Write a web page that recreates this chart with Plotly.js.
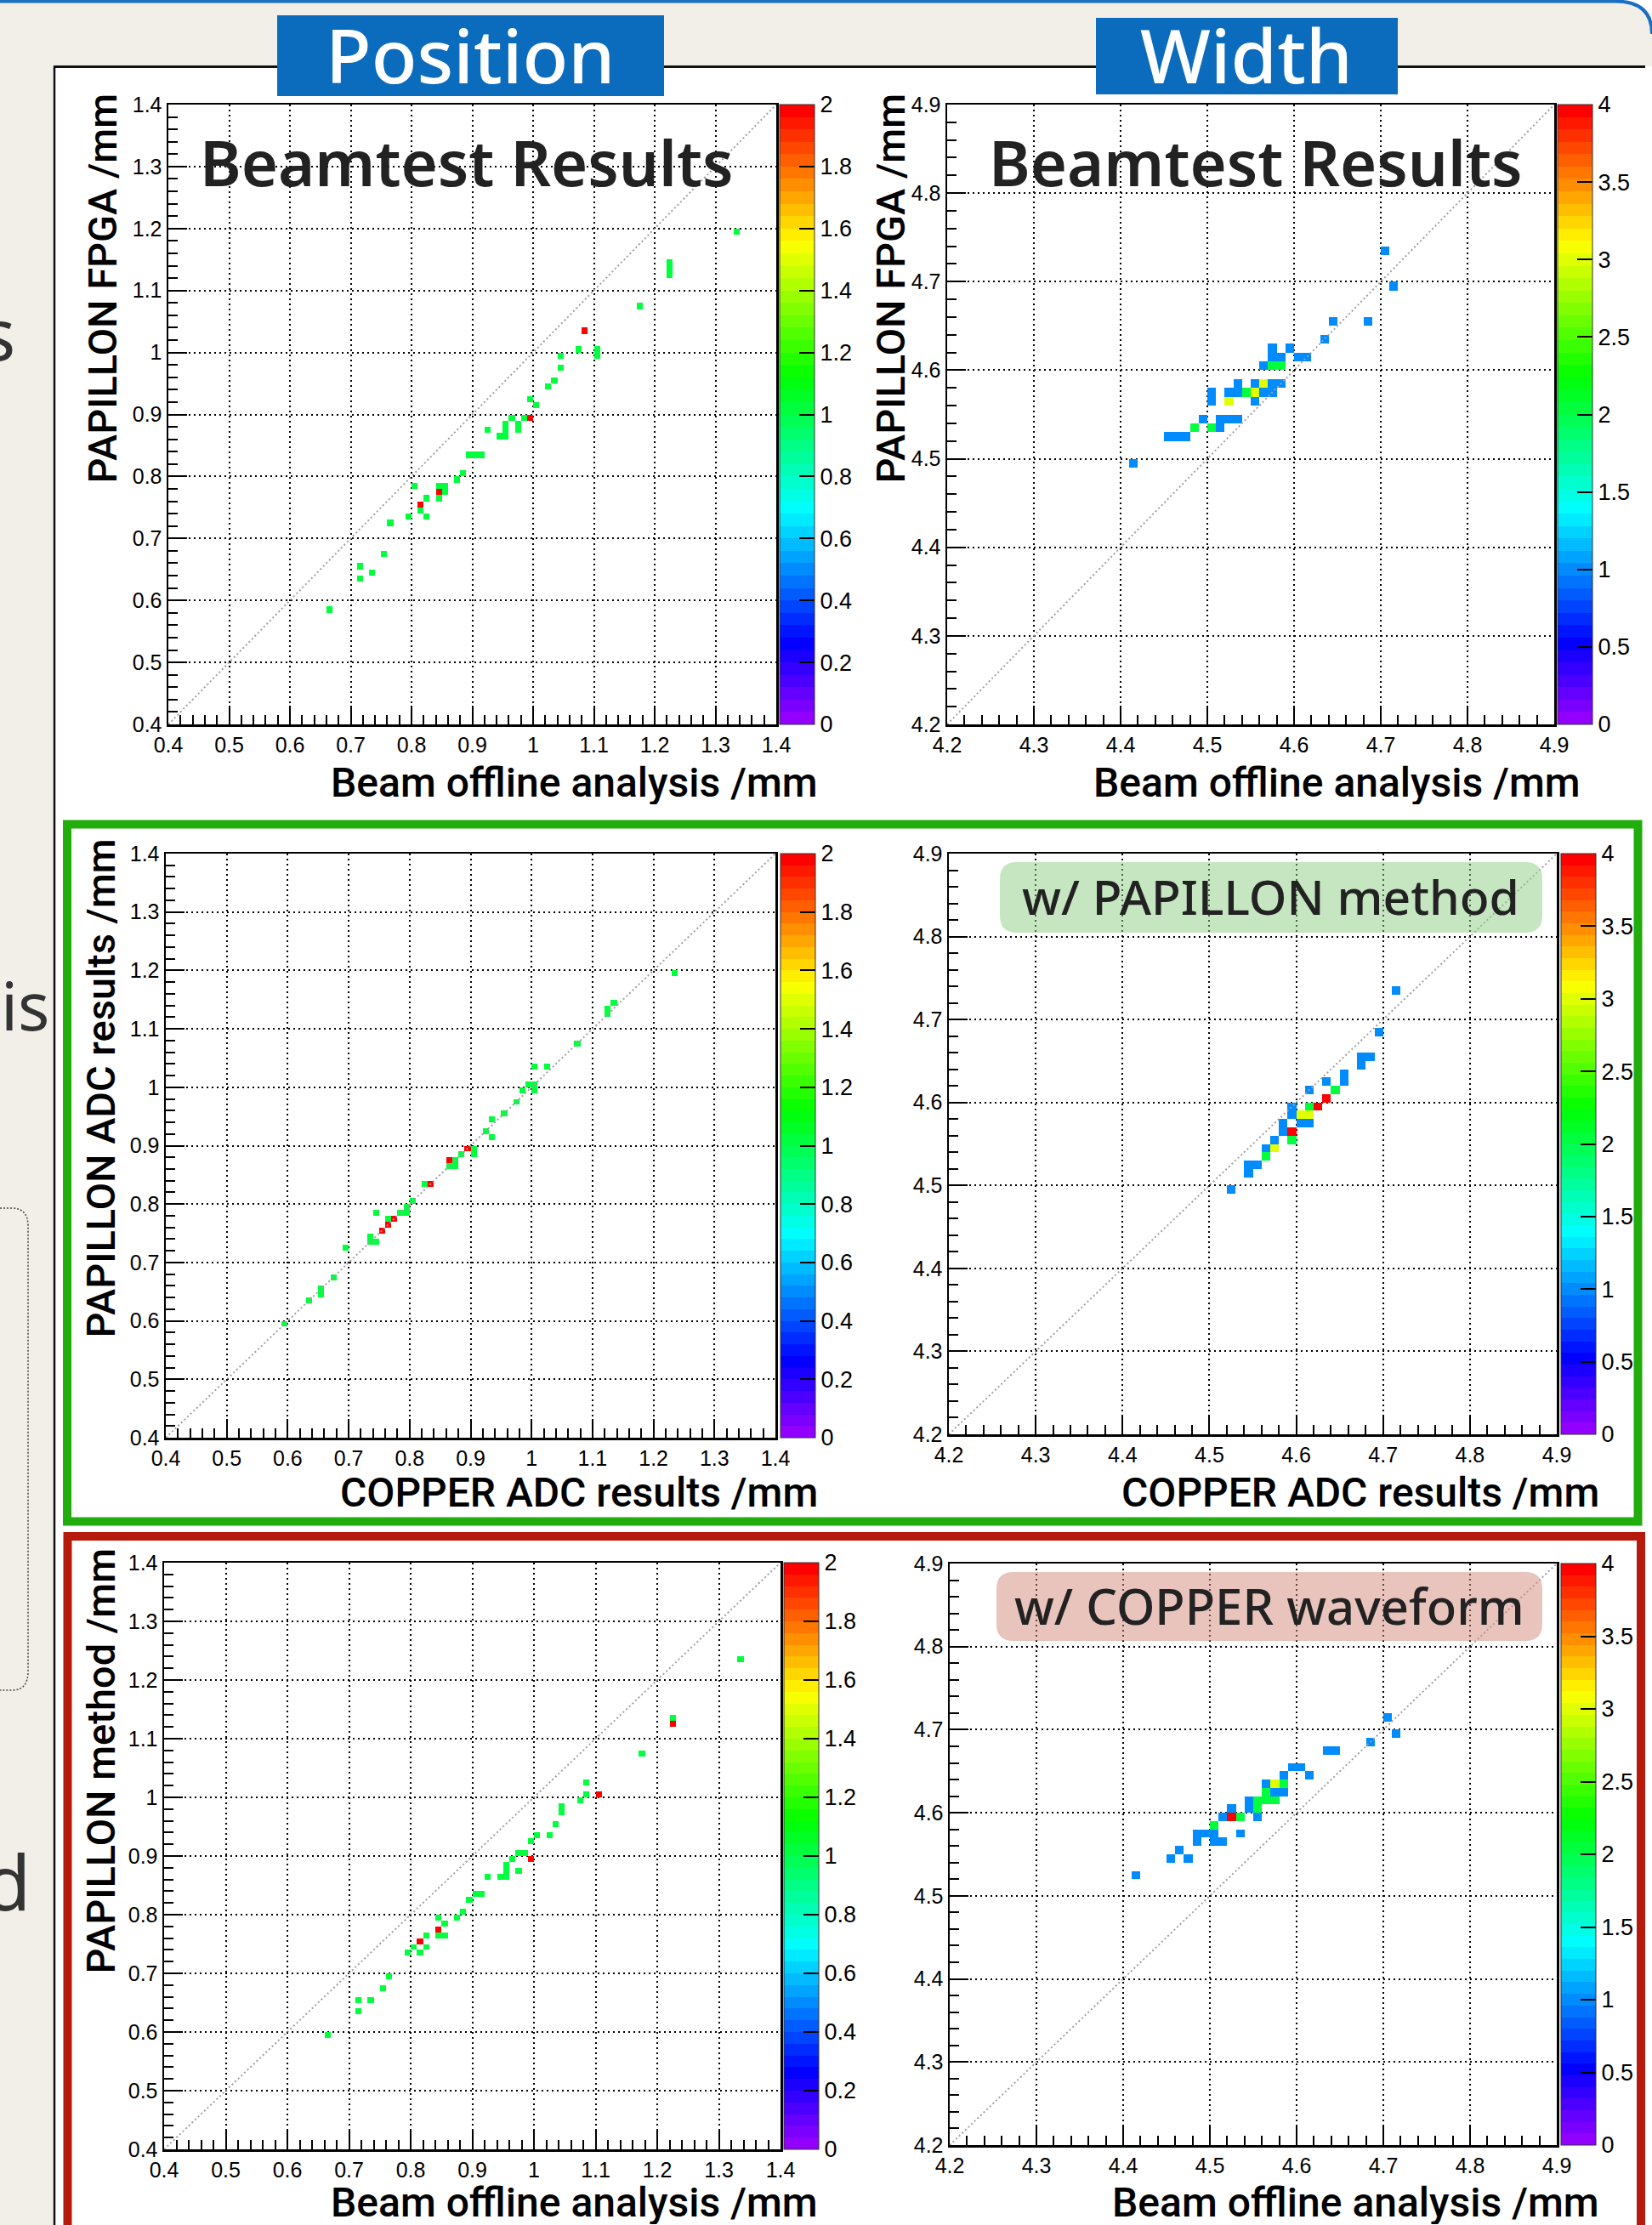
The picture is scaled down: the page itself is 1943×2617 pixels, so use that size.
<!DOCTYPE html>
<html>
<head>
<meta charset="utf-8">
<script src="https://cdn.plot.ly/plotly-3.0.1.min.js"></script>
<style>
html,body{margin:0;padding:0;background:#f2eee8;}
#chart{width:1943px;height:2617px;}
</style>
</head>
<body>
<div id="chart"></div>
<script>
// ================= DATA (bin lower edges, bin contents) =================
const posRange = [0.4, 1.4];
const widthRange = [4.2, 4.9];
const binSize = 0.01;
const posZMax = 2;
const widthZMax = 4;
const diagPos = [0.4, 1.4];
const diagWidth = [4.2, 4.9];

// Panel A: Position, PAPILLON FPGA vs Beam offline analysis
const posFpgaX = [0.66,0.71,0.71,0.73,0.75,0.76,0.79,0.80,0.81,0.81,0.82,0.82,0.84,0.85,0.85,0.84,0.84,0.87,0.88,0.89,0.90,0.91,0.92,0.94,0.95,0.95,0.95,0.96,0.97,0.97,0.98,0.99,0.99,1.00,1.02,1.03,1.04,1.04,1.07,1.10,1.10,1.08,1.17,1.22,1.22,1.22,1.33];
const posFpgaY = [0.58,0.65,0.63,0.64,0.67,0.72,0.73,0.78,0.75,0.74,0.76,0.73,0.78,0.78,0.77,0.77,0.76,0.79,0.80,0.83,0.83,0.83,0.87,0.86,0.86,0.87,0.88,0.89,0.88,0.87,0.89,0.89,0.92,0.91,0.94,0.95,0.97,0.99,1.00,1.00,0.99,1.03,1.07,1.14,1.13,1.12,1.19];
const posFpgaN = [1,1,1,1,1,1,1,1,2,1,1,1,1,1,1,2,1,1,1,1,1,1,1,1,1,1,1,1,1,1,1,2,1,1,1,1,1,1,1,1,1,2,1,1,1,1,1];

// Panel B: Width, PAPILLON FPGA vs Beam offline analysis
const widFpgaX = [4.41,4.45,4.46,4.47,4.48,4.49,4.50,4.50,4.50,4.51,4.51,4.52,4.53,4.52,4.52,4.53,4.53,4.54,4.55,4.55,4.55,4.56,4.56,4.57,4.57,4.58,4.56,4.57,4.58,4.57,4.58,4.57,4.59,4.60,4.61,4.63,4.64,4.68,4.70,4.71];
const widFpgaY = [4.49,4.52,4.52,4.52,4.53,4.54,4.53,4.57,4.56,4.53,4.54,4.54,4.54,4.56,4.57,4.57,4.58,4.57,4.57,4.58,4.56,4.58,4.57,4.58,4.57,4.58,4.60,4.60,4.60,4.61,4.61,4.62,4.62,4.61,4.61,4.63,4.65,4.65,4.73,4.69];
const widFpgaN = [1,1,1,1,2,1,2,1,1,1,1,1,1,3,1,1,1,2,3,1,1,3,1,1,1,1,1,2,2,1,1,1,1,1,1,1,1,1,1,1];

// Panel C: Position, PAPILLON ADC vs COPPER ADC
const posAdcX = [0.59,0.63,0.65,0.65,0.67,0.69,0.73,0.73,0.74,0.74,0.75,0.76,0.76,0.77,0.78,0.79,0.79,0.80,0.82,0.83,0.86,0.86,0.87,0.87,0.88,0.89,0.90,0.90,0.92,0.93,0.93,0.95,0.97,0.98,0.99,1.00,1.00,1.00,1.02,1.07,1.12,1.12,1.13,1.23];
const posAdcY = [0.59,0.63,0.65,0.64,0.67,0.72,0.74,0.73,0.73,0.78,0.75,0.77,0.76,0.77,0.78,0.78,0.79,0.80,0.83,0.83,0.87,0.86,0.86,0.87,0.88,0.89,0.89,0.88,0.92,0.91,0.94,0.95,0.97,0.99,1.00,1.00,0.99,1.03,1.03,1.07,1.13,1.12,1.14,1.19];
const posAdcN = [1,1,1,1,1,1,1,1,1,1,2,1,2,2,1,1,1,1,1,2,2,1,1,1,1,2,1,1,1,1,1,1,1,1,1,1,1,1,1,1,1,1,1,1];

// Panel D: Width, PAPILLON ADC vs COPPER ADC
const widAdcX = [4.52,4.54,4.55,4.54,4.56,4.56,4.57,4.57,4.58,4.58,4.59,4.59,4.59,4.59,4.60,4.61,4.60,4.61,4.61,4.62,4.61,4.63,4.63,4.64,4.65,4.65,4.67,4.67,4.68,4.69,4.71];
const widAdcY = [4.49,4.52,4.52,4.51,4.53,4.54,4.54,4.55,4.56,4.57,4.55,4.56,4.58,4.59,4.57,4.57,4.58,4.58,4.59,4.59,4.61,4.60,4.62,4.61,4.63,4.62,4.65,4.64,4.65,4.68,4.73];
const widAdcN = [1,1,1,1,2,1,3,1,1,1,2,4,1,1,1,1,3,3,2,4,1,4,1,2,1,1,1,1,1,1,1];

// Panel E: Position, PAPILLON method (COPPER waveform) vs Beam offline analysis
const posMetX = [0.66,0.71,0.71,0.73,0.75,0.76,0.79,0.80,0.81,0.81,0.82,0.82,0.84,0.84,0.84,0.85,0.85,0.87,0.88,0.89,0.90,0.91,0.92,0.94,0.95,0.95,0.95,0.96,0.97,0.98,0.97,0.99,0.99,1.00,1.02,1.03,1.04,1.04,1.07,1.08,1.08,1.10,1.17,1.22,1.22,1.33];
const posMetY = [0.59,0.65,0.63,0.65,0.67,0.69,0.73,0.74,0.75,0.73,0.74,0.76,0.79,0.77,0.76,0.76,0.78,0.79,0.80,0.82,0.83,0.83,0.86,0.86,0.86,0.88,0.87,0.89,0.90,0.90,0.87,0.89,0.92,0.93,0.93,0.95,0.97,0.98,0.99,1.00,1.02,1.00,1.07,1.13,1.12,1.23];
const posMetN = [1,1,1,1,1,1,1,1,2,1,1,1,1,2,1,1,1,1,1,1,1,1,1,1,1,1,1,1,1,1,1,2,1,1,1,1,1,1,1,1,1,2,1,1,2,1];

// Panel F: Width, PAPILLON method (COPPER waveform) vs Beam offline analysis
const widMetX = [4.41,4.45,4.46,4.47,4.48,4.49,4.50,4.48,4.50,4.51,4.50,4.51,4.52,4.53,4.52,4.53,4.54,4.54,4.55,4.55,4.55,4.56,4.57,4.56,4.56,4.57,4.58,4.57,4.58,4.58,4.59,4.60,4.61,4.63,4.64,4.68,4.70,4.71];
const widMetY = [4.52,4.54,4.55,4.54,4.57,4.57,4.57,4.56,4.56,4.56,4.58,4.59,4.59,4.59,4.60,4.57,4.61,4.60,4.59,4.61,4.60,4.61,4.61,4.62,4.63,4.63,4.63,4.62,4.62,4.64,4.65,4.65,4.64,4.67,4.67,4.68,4.71,4.69];
const widMetN = [1,1,1,1,1,1,1,1,1,1,2,1,4,2,1,1,1,1,1,2,2,2,2,2,1,3,2,1,1,1,1,1,1,1,1,1,1,1];

// Texts
const xTitles = ["Beam offline analysis /mm","Beam offline analysis /mm","COPPER ADC results /mm","COPPER ADC results /mm","Beam offline analysis /mm","Beam offline analysis /mm"];
const yTitles = ["PAPILLON FPGA /mm","PAPILLON FPGA /mm","PAPILLON ADC results /mm","PAPILLON method /mm"];

// ================= LAYOUT HELPERS =================
const W = 1943, H = 2617;
const fx = v => v / W;
const fy = v => 1 - v / H;
const TICKFONT = {family:"'Liberation Sans', Arial, sans-serif", size:25, color:'#000'};
const CBFONT = {family:"'Liberation Sans', Arial, sans-serif", size:27, color:'#000'};

// ROOT "pretty" palette: 50 bands, violet -> red
const palette = [];
for (let i = 0; i < 50; i++) {
  const hue = 280 - (i + 1) * 280 / 50;
  const c = `hsl(${hue.toFixed(1)},100%,50%)`;
  palette.push([i / 50, c]);
  palette.push([(i + 1) / 50, c]);
}

function buildGrid(xs, ys, ns, range) {
  const n = Math.round((range[1] - range[0]) / binSize);
  const z = [];
  for (let r = 0; r < n; r++) z.push(new Array(n).fill(null));
  xs.forEach((xv, i) => {
    const c = Math.round((xv - range[0]) / binSize);
    const r = Math.round((ys[i] - range[0]) / binSize);
    z[r][c] = ns[i];
  });
  return z;
}

// pixel boxes: [left, right, top, bottom], colorbar left
const panels = [
  {box:[198, 913, 123, 852],  cb:917,  range:posRange,   zmax:posZMax,   dt:0.2, data:[posFpgaX,posFpgaY,posFpgaN], diag:diagPos},
  {box:[1114,1828,123, 852],  cb:1832, range:widthRange, zmax:widthZMax, dt:0.5, data:[widFpgaX,widFpgaY,widFpgaN], diag:diagWidth},
  {box:[195, 912, 1004,1691], cb:918,  range:posRange,   zmax:posZMax,   dt:0.2, data:[posAdcX,posAdcY,posAdcN], diag:diagPos},
  {box:[1116,1831,1004,1687], cb:1836, range:widthRange, zmax:widthZMax, dt:0.5, data:[widAdcX,widAdcY,widAdcN], diag:diagWidth},
  {box:[193, 918, 1838,2528], cb:922,  range:posRange,   zmax:posZMax,   dt:0.2, data:[posMetX,posMetY,posMetN], diag:diagPos},
  {box:[1117,1831,1839,2523], cb:1836, range:widthRange, zmax:widthZMax, dt:0.5, data:[widMetX,widMetY,widMetN], diag:diagWidth}
];

const traces = [];
const layout = {
  width: W, height: H,
  margin: {l:0, r:0, t:0, b:0, autoexpand:false},
  paper_bgcolor: '#f2eee8',
  plot_bgcolor: '#ffffff',
  showlegend: false,
  shapes: [],
  annotations: []
};

panels.forEach((p, k) => {
  const idx = k === 0 ? '' : String(k + 1);
  const [l, r, t, b] = p.box;
  const axBase = {
    range: p.range, autorange: false, fixedrange: true,
    showgrid: true, gridcolor: '#000', gridwidth: 2, griddash: '2px,4px',
    showline: true, mirror: true, linecolor: '#000', linewidth: 2.5,
    ticks: 'inside', ticklen: 22, tickwidth: 2, tickcolor: '#000',
    tick0: p.range[0], dtick: 0.1,
    minor: {ticks: 'inside', ticklen: 11, tickwidth: 2, tickcolor: '#000', dtick: 0.02, tick0: p.range[0], showgrid: false},
    tickfont: TICKFONT, zeroline: false
  };
  layout['xaxis' + idx] = Object.assign({}, axBase, {domain: [fx(l), fx(r)], anchor: 'y' + idx});
  layout['yaxis' + idx] = Object.assign({}, axBase, {domain: [fy(b), fy(t)], anchor: 'x' + idx});

  traces.push({
    type: 'heatmap',
    z: buildGrid(p.data[0], p.data[1], p.data[2], p.range),
    x0: p.range[0] + binSize / 2, dx: binSize,
    y0: p.range[0] + binSize / 2, dy: binSize,
    zmin: 0, zmax: p.zmax, zsmooth: false,
    colorscale: palette, hoverinfo: 'skip',
    xaxis: 'x' + idx, yaxis: 'y' + idx,
    colorbar: {
      x: fx(p.cb), xanchor: 'left', y: fy(t), yanchor: 'top',
      len: b - t, lenmode: 'pixels', thickness: 41, thicknessmode: 'pixels',
      xpad: 0, ypad: 0, outlinewidth: 1, outlinecolor: '#333',
      ticks: 'inside', ticklen: 18, tickwidth: 2, tickcolor: '#000',
      tick0: 0, dtick: p.dt, tickfont: CBFONT
    }
  });
  traces.push({
    type: 'scatter', mode: 'lines', x: p.diag, y: p.diag,
    line: {color: '#a0a0a0', width: 2, dash: '2px,3px'},
    hoverinfo: 'skip', xaxis: 'x' + idx, yaxis: 'y' + idx
  });
});

// ---------- shapes ----------
const S = layout.shapes;
const rect = (x0, y0, x1, y1, o) => Object.assign({type:'rect', xref:'paper', yref:'paper', x0:fx(x0), x1:fx(x1), y0:fy(y1), y1:fy(y0)}, o);
const line = (x0, y0, x1, y1, o) => Object.assign({type:'line', xref:'paper', yref:'paper', x0:fx(x0), x1:fx(x1), y0:fy(y0), y1:fy(y1)}, o);
const pt = (x, y) => `${fx(x).toFixed(6)},${fy(y).toFixed(6)}`;
function roundRectPath(x0, y0, x1, y1, rr) {
  return `M ${pt(x0+rr,y0)} L ${pt(x1-rr,y0)} Q ${pt(x1,y0)} ${pt(x1,y0+rr)} L ${pt(x1,y1-rr)} Q ${pt(x1,y1)} ${pt(x1-rr,y1)} L ${pt(x0+rr,y1)} Q ${pt(x0,y1)} ${pt(x0,y1-rr)} L ${pt(x0,y0+rr)} Q ${pt(x0,y0)} ${pt(x0+rr,y0)} Z`;
}

S.push(rect(63, 78, 1943, 2640, {fillcolor:'#ffffff', line:{width:0}, layer:'below'}));
S.push(line(63, 78.5, 1935, 78.5, {line:{color:'#111', width:3}, layer:'below'}));
S.push(line(64, 78, 64, 2617, {line:{color:'#111', width:2.5}, layer:'below'}));
// top blue border with rounded corner
S.push({type:'path', xref:'paper', yref:'paper', path:`M ${pt(1900,0)} L ${pt(1943,0)} L ${pt(1943,40)} Q ${pt(1943,1.5)} ${pt(1900,1.5)} Z`, fillcolor:'#ffffff', line:{width:0}, layer:'below'});
S.push({type:'path', xref:'paper', yref:'paper', path:`M ${pt(0,1.5)} L ${pt(1900,1.5)} Q ${pt(1943,1.5)} ${pt(1943,40)}`, line:{color:'#1b6fc2', width:4}, layer:'below'});
// left dotted rounded box
S.push({type:'path', xref:'paper', yref:'paper', path:`M ${pt(0,1421)} L ${pt(14,1421)} Q ${pt(33,1421)} ${pt(33,1442)} L ${pt(33,1966)} Q ${pt(33,1988)} ${pt(14,1988)} L ${pt(0,1988)}`, line:{color:'#444', width:1.5, dash:'2px,2px'}, layer:'below'});
// green & red frames
S.push(rect(79, 969.5, 1926.5, 1789.5, {line:{color:'#21ad0b', width:10}, fillcolor:'rgba(0,0,0,0)', layer:'below'}));
S.push(rect(79.5, 1807, 1930, 2660, {line:{color:'#b51a0b', width:10}, fillcolor:'rgba(0,0,0,0)', layer:'below'}));
// section header boxes
S.push(rect(326, 18, 781, 113, {fillcolor:'#0b6cbd', line:{width:0}, layer:'above'}));
S.push(rect(1289, 21, 1644, 111, {fillcolor:'#0b6cbd', line:{width:0}, layer:'above'}));
// label boxes
S.push({type:'path', xref:'paper', yref:'paper', path:roundRectPath(1176, 1014, 1814, 1097, 20), fillcolor:'rgba(139,205,129,0.5)', line:{width:0}, layer:'above'});
S.push({type:'path', xref:'paper', yref:'paper', path:roundRectPath(1172, 1849, 1814, 1930, 20), fillcolor:'rgba(209,137,123,0.5)', line:{width:0}, layer:'above'});

// ---------- annotations ----------
const A = layout.annotations;
const ann = (text, x, y, o) => Object.assign({text, xref:'paper', yref:'paper', x:fx(x), y:fy(y), showarrow:false, xanchor:'center', yanchor:'middle'}, o);
const NOTO = "'Noto Sans', 'Open Sans', sans-serif";
const TITLEF = "Roboto, 'Liberation Sans', Arial, sans-serif";

A.push(ann('Position', 553, 64, {font:{family:NOTO, size:88, color:'#ffffff', weight:500}}));
A.push(ann('Width', 1466, 64, {font:{family:NOTO, size:88, color:'#ffffff', weight:500}}));
A.push(ann('Beamtest Results', 549, 191, {font:{family:NOTO, size:74, color:'#222222', weight:600}}));
A.push(ann('Beamtest Results', 1477, 191, {font:{family:NOTO, size:74, color:'#222222', weight:600}}));
A.push(ann('w/ PAPILLON method', 1494, 1054, {font:{family:NOTO, size:57, color:'#222222', weight:500}}));
A.push(ann('w/ COPPER waveform', 1493, 1888, {font:{family:NOTO, size:58, color:'#222222', weight:500}}));

// x-axis titles (right aligned, ROOT style)
const xT = [[963,920],[1860,920],[963,1755],[1882,1755],[963,2590],[1882,2590]];
xT.forEach((q, i) => A.push(ann(xTitles[i], q[0], q[1], {xanchor:'right', height:52, borderpad:0, font:{family:TITLEF, size:48, color:'#000', weight:500}})));
// y-axis titles (rotated, top aligned)
const yT = [[120,108],[1047,108],[118,985],[118,1819]];
yT.forEach((q, i) => A.push(ann(yTitles[i], q[0], q[1], {textangle:-90, yanchor:'top', font:{family:TITLEF, size:47, color:'#000', weight:500}})));

// cut-off slide text on the left margin (fragments of the slide's side text)
A.push(ann('s', 20, 392, {xanchor:'right', font:{family:NOTO, size:84, color:'#333333'}}));
A.push(ann('is', 0, 1182, {xanchor:'left', borderpad:0, font:{family:NOTO, size:78, color:'#333333'}}));
A.push(ann('d', 38, 2212, {xanchor:'right', font:{family:NOTO, size:90, color:'#333333'}}));

Plotly.newPlot('chart', traces, layout, {staticPlot: true, displayModeBar: false});
</script>
</body>
</html>
